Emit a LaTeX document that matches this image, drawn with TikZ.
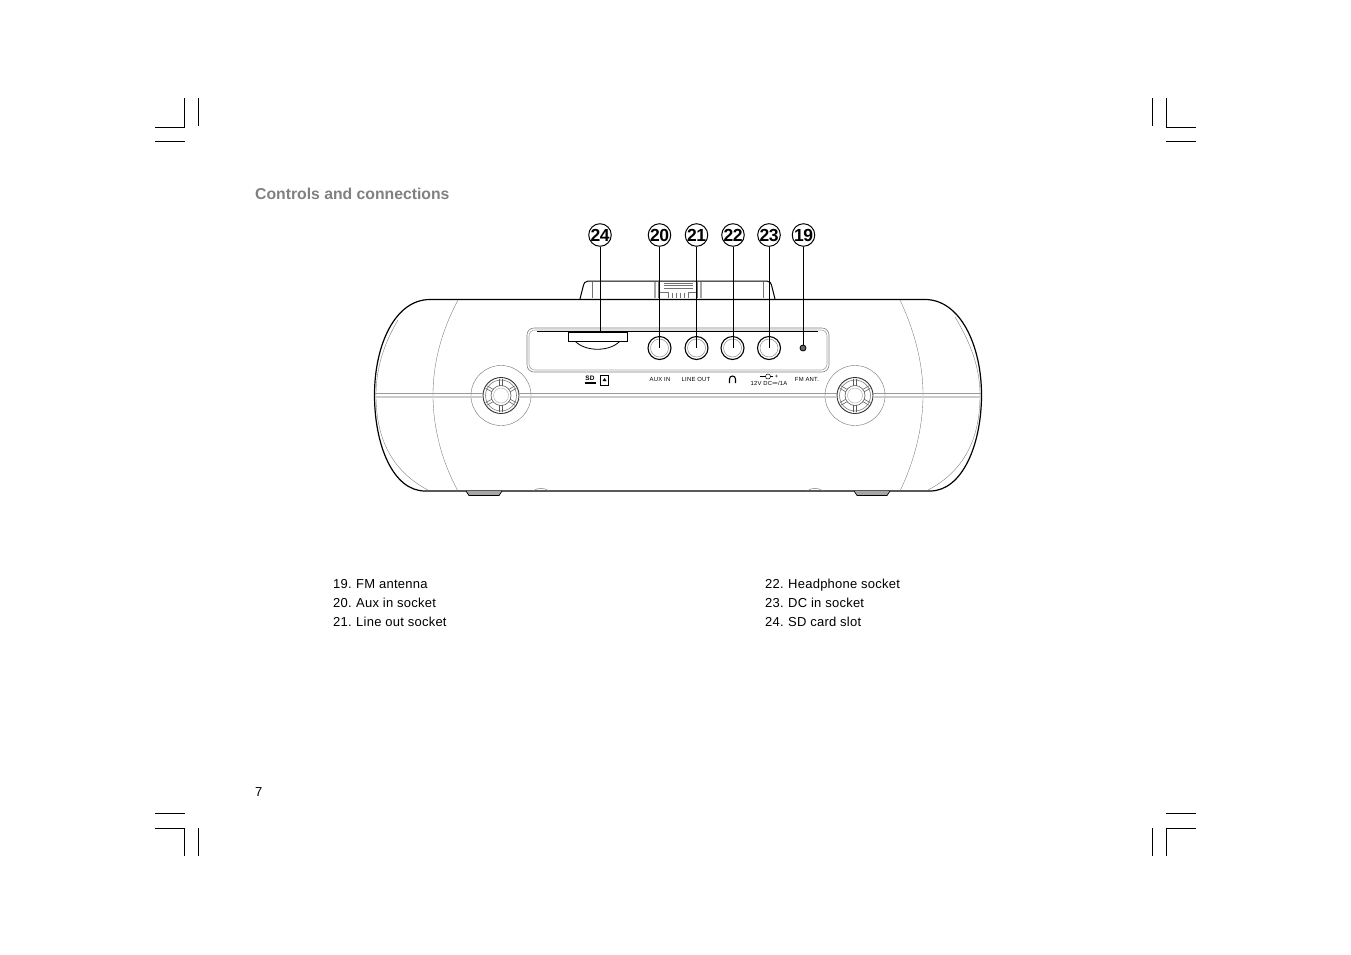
\documentclass[tikz,border=0pt]{standalone}
\usepackage{fontspec}
\setmainfont{Liberation Sans}
\tikzset{
    callout/.style={circle, draw=black, line width=1pt, fill=white, minimum size=21pt, inner sep=0pt, font=\fontsize{17.5}{17}\selectfont\bfseries\addfontfeatures{LetterSpace=-3}},
    leader/.style={black, line width=0.9pt},
    cropmark/.style={black, line width=0.8pt},
    hairline/.style={black!55, line width=0.45pt},
    listitem/.style={anchor=base west, inner sep=0pt, font=\fontsize{13}{13}\selectfont\addfontfeatures{LetterSpace=1.9}},
    tinytext/.style={inner sep=0pt, font=\fontsize{5.9}{6}\selectfont\addfontfeatures{LetterSpace=4}}
}
\begin{document}
\begin{tikzpicture}[x=1pt, y=-1pt]
    \useasboundingbox (0,0) rectangle (1351,954);
    % crop marks
    \foreach \x/\s in {184.5/-1, 1166/1} {
        \draw[cropmark] (\x+\s*29.5,127) -- (\x,127) -- (\x,98);
        \draw[cropmark] (\x,141) -- (\x+\s*29.5,141);
        \draw[cropmark] (\x+\s*29.5,828) -- (\x,828) -- (\x,856);
        \draw[cropmark] (\x,813) -- (\x+\s*29.5,813);
    }
    \foreach \x in {198.5, 1152} {
        \draw[cropmark] (\x,98) -- (\x,126);
        \draw[cropmark] (\x,828) -- (\x,856);
    }
    % handle on top
    \draw[black, line width=1pt] (580,299) -- (583,287) .. controls (584,283) and (585,281) .. (588,281) -- (767,281) .. controls (770,281) and (771,283) .. (772,287) -- (775,299);
    \draw[hairline] (592,282) -- (592,298);
    \draw[hairline] (763,282) -- (763,298);
    \draw[black!35, line width=2pt] (655,282) -- (655,298);
    \draw[black!35, line width=2pt] (700.5,282) -- (700.5,298);
    \draw[hairline] (658,282) -- (658,298);
    \draw[hairline] (697.5,282) -- (697.5,298);
    \draw[hairline] (664,283) -- (693,283);
    \draw[hairline] (664,285.5) -- (693,285.5);
    \draw[hairline] (664,288) -- (693,288);
    \draw[hairline] (658,292) -- (668,292) -- (668,298);
    \draw[hairline] (697.5,292) -- (688,292) -- (688,298);
    \foreach \x in {672,676,680,684} {
        \draw[hairline] (\x,293) -- (\x,298);
    }
    % body
    \draw[black, line width=1.2pt] (430,299.5) -- (925,299.5) .. controls (960,299.5) and (981.5,345) .. (981.5,395) .. controls (981.5,445) and (962,491) .. (930,491) -- (425,491) .. controls (393,491) and (374.5,445) .. (374.5,395) .. controls (374.5,345) and (395,299.5) .. (430,299.5);
    \draw[hairline, line width=0.35pt] (458,300) .. controls (442,330) and (433,362) .. (433,395) .. controls (433,428) and (442,462) .. (458,491);
    \draw[hairline, line width=0.35pt] (900,300) .. controls (914,330) and (923,362) .. (923,395) .. controls (923,428) and (914,462) .. (900,491);
    \draw[hairline, line width=0.35pt] (398,320) .. controls (383,345) and (376,370) .. (376,395) .. controls (376,430) and (386,468) .. (428,490);
    \draw[hairline, line width=0.35pt] (955,317) .. controls (972,345) and (980,370) .. (980,395) .. controls (980,430) and (970,468) .. (928,490);
    % seam
    \foreach \a/\b in {375/483, 519/837, 873/981} {
        \draw[black!40, line width=0.5pt] (\a,393) -- (\b,393);
        \draw[black!20, line width=1.6pt] (\a,397) -- (\b,397);
    }
    % feet
    \foreach \x in {466, 854} {
        \draw[black, line width=0.7pt, fill=black!35] (\x,491) -- (\x+3,495.5) -- (\x+33,495.5) -- (\x+36,491);
    }
    \foreach \x in {533, 807} {
        \draw[hairline] (\x,491) .. controls (\x+4,487.5) and (\x+12,487.5) .. (\x+16,491);
    }
    % wheels at both sides
    \foreach \x in {501, 855} {
        \draw[black!55, fill=white, line width=0.4pt] (\x,395.5) circle (30);
        \draw[black!80, line width=0.9pt] (\x,395.5) circle (18);
        \draw[black!50, line width=0.6pt] (\x,395.5) circle (15.5);
        \draw[black!65, line width=0.6pt] (\x,395.5) circle (10);
        \draw[black!35, line width=0.4pt] (\x,395.5) circle (7.5);
        \foreach \w in {30,90,150,210,270,330} {
            \draw[black!65, line width=0.55pt] (\x,395.5) ++(\w-8:10) -- ++(\w:7);
            \draw[black!65, line width=0.55pt] (\x,395.5) ++(\w+8:10) -- ++(\w:7);
        }
        \draw[black!40, line width=0.5pt] (\x-30,393) -- (\x-18,393);
        \draw[black!20, line width=1.6pt] (\x-30,397) -- (\x-18,397);
        \draw[black!40, line width=0.5pt] (\x+18,393) -- (\x+30,393);
        \draw[black!20, line width=1.6pt] (\x+18,397) -- (\x+30,397);
    }
    % socket panel
    \draw[black!50, line width=0.6pt, rounded corners=7pt] (527,328) rectangle (829,372);
    \draw[black!35, line width=0.6pt, rounded corners=6pt] (529,330) rectangle (827,370);
    \draw[black, line width=0.8pt] (537,331.5) -- (818,331.5);
    \draw[black, line width=0.8pt] (575,341) .. controls (585,352) and (610,352) .. (620,341);
    \draw[black, line width=0.9pt, fill=white] (568.5,332) rectangle (627.5,341);
    \foreach \x in {659.5, 696.5, 732.5, 769} {
        \draw[black, line width=1.1pt] (\x,348) circle (11.5);
        \draw[black!45, line width=0.5pt] (\x,348) circle (9);
    }
    \draw[black, line width=0.8pt, fill=black!60] (803,348) circle (3);
    \coordinate (slot) at (600,332);
    \coordinate (auxin) at (659.5,348);
    \coordinate (lineout) at (696.5,348);
    \coordinate (phones) at (732.5,348);
    \coordinate (dcin) at (769.5,348);
    \coordinate (fmant) at (803.5,345);
    % numbers and their lines
    \foreach \name/\x/\num/\target in {c24/600/24/slot, c20/659.5/20/auxin, c21/696.5/21/lineout, c22/733/22/phones, c23/769/23/dcin, c19/803.5/19/fmant} {
        \node[callout] (\name) at (\x,235) {\num};
        \draw[leader] (\name) -- (\name |- \target);
    }
    % small print under the sockets
    \node[inner sep=0pt, font=\fontsize{6.5}{7}\selectfont\bfseries] (sdlogo) at (590,378.5) {SD};
    \draw[black, line width=1.5pt] (584.5,383) -- (596,383);
    \draw[black, line width=0.6pt] (600.5,375) rectangle (608.5,385);
    \fill[black] (604.5,378) -- (606.5,381) -- (602.5,381) -- cycle;
    \node[tinytext] (auxtext) at (660,379.5) {AUX IN};
    \node[tinytext] (linetext) at (696,379.5) {LINE OUT};
    \draw[black, line width=1.1pt] (729.5,383) -- (729.5,379) arc (180:360:3) -- (735.5,383);
    \node[tinytext] (dctext) at (769,383) {12V DC\scalebox{1.7}[1]{=}/1A};
    \draw[black, line width=0.5pt] (760,376.5) -- (773,376.5);
    \draw[black, fill=white, line width=0.5pt] (768,376.5) circle (2.5);
    \node[tinytext] (plustext) at (776.5,376.5) {+};
    \node[tinytext] (fmtext) at (807,379.5) {FM ANT.};
    % text of the page
    \node[anchor=base west, inner sep=0pt, text=black!50, font=\fontsize{15.75}{16}\selectfont\bfseries] (title) at (255,199) {Controls and connections};
    \foreach \name/\x/\y/\num/\txt in {i19/333/588/19./FM antenna, i20/333/607/20./Aux in socket, i21/333/626/21./Line out socket, i22/765/588/22./Headphone socket, i23/765/607/23./DC in socket, i24/765/626/24./SD card slot} {
        \node[listitem] (\name) at (\x,\y) {\makebox[23pt][l]{\num}\txt};
    }
    \node[anchor=base west, inner sep=0pt, font=\fontsize{13}{13}\selectfont] (pageno) at (255,796) {7};
\end{tikzpicture}
\end{document}
